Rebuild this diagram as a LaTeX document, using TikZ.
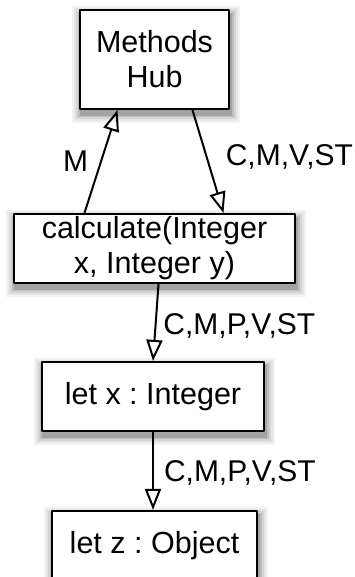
\documentclass[tikz,border=0pt]{standalone}
\usepackage{fontspec}
\setmainfont{Liberation Sans}
\usetikzlibrary{arrows.meta,backgrounds}
\frenchspacing

\tikzset{
  stmt/.style={draw,line width=2.2pt,fill=white,align=center,inner sep=0pt,
    font=\fontsize{30.5}{35}\selectfont},
  flow/.style={line width=2pt,-{Triangle[open,length=21pt,width=16pt,line width=2pt]}},
  lbl/.style={inner sep=0pt,font=\fontsize{30}{35}\selectfont}
}

\begin{document}
\begin{tikzpicture}[x=1pt,y=-1pt,line join=round]
  \useasboundingbox (0,0) rectangle (355,577);
  % boxes
  \node[stmt,minimum width=149pt,minimum height=99pt] (hub) at (154.5,59.5) {Methods\\Hub};
  \node[stmt,minimum width=281pt,minimum height=69pt] (calc) at (154.5,248.5) {calculate(Integer\\x, Integer y)};
  \node[stmt,minimum width=222pt,minimum height=69pt] (letx) at (153,396.5) {let x : Integer};
  \node[stmt,minimum width=205pt,minimum height=69pt] (letz) at (154.5,545.5) {let z : Object};
  % soft drop shadows, widest and palest first
  \begin{pgfonlayer}{background}
    \foreach \n in {hub,calc,letx,letz}
      \foreach \w/\c in {16/5,12/10,8/17,4/26,1/36}
        \draw[black!\c,fill=black!\c,line width=\w pt]
          ([shift={(1.5,5)}]\n.south west) rectangle ([shift={(1.5,5)}]\n.north east);
  \end{pgfonlayer}
  % connectors
  \draw[flow] ([xshift=-70pt]calc.north) -- ([xshift=-37pt]hub.south)
    node[lbl,pos=0.5,left=12pt] {M};
  \draw[flow] ([xshift=38pt]hub.south) -- ([xshift=69pt]calc.north)
    node[lbl,pos=0.46,right=18pt] {C,M,V,ST};
  \draw[flow] ([xshift=4pt]calc.south) -- (letx.north)
    node[lbl,pos=0.55,right=7pt] {C,M,P,V,ST};
  \draw[flow] (letx.south) -- (letx.south |- letz.north)
    node[lbl,pos=0.52,right=10pt] {C,M,P,V,ST};
\end{tikzpicture}
\end{document}
